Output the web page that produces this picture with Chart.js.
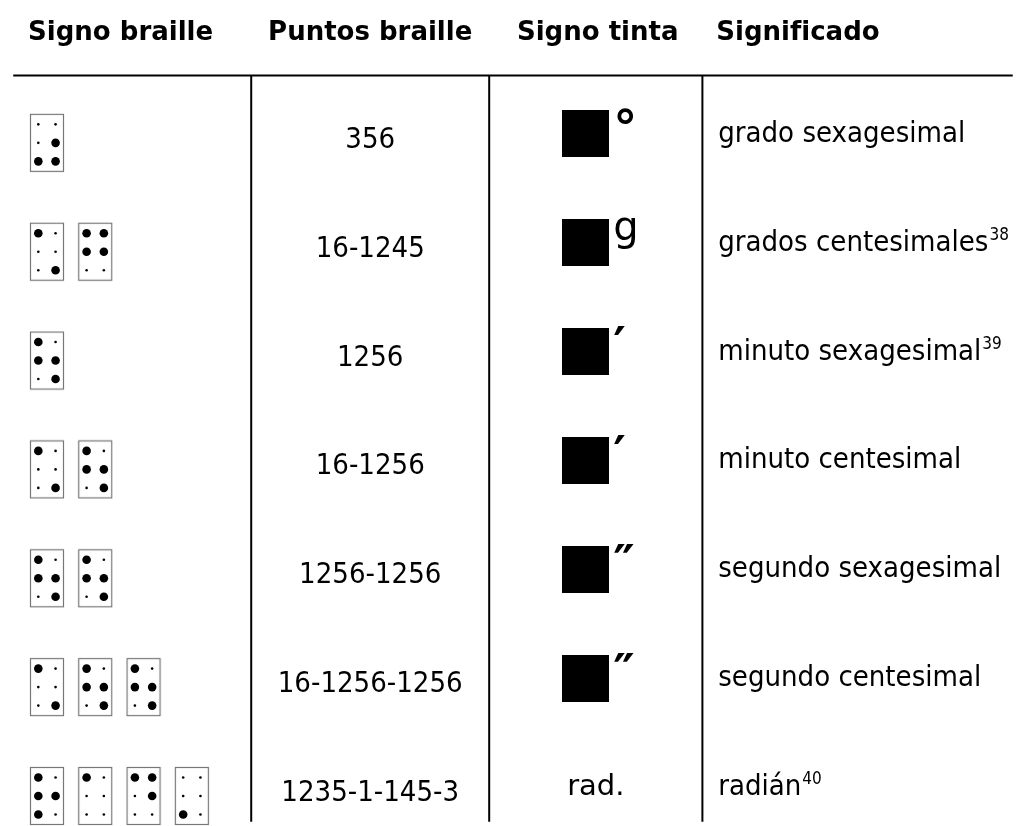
<!DOCTYPE html>
<html lang="es">
<head>
<meta charset="utf-8">
<title>Signos braille</title>
<script src="https://cdn.jsdelivr.net/npm/chart.js@4.4.1/dist/chart.umd.min.js"></script>
<style>
  html, body { margin: 0; padding: 0; background: #fff; }
  canvas { display: block; }
</style>
</head>
<body>
<canvas id="tabla" width="1026" height="826"></canvas>
<script>
// table content
const headers = ['Signo braille', 'Puntos braille', 'Signo tinta', 'Significado'];
const puntos = ['356', '16-1245', '1256', '16-1256', '1256-1256', '16-1256-1256', '1235-1-145-3'];
const tinta = ['°', 'g', '′', '′', '″', '″', 'rad.'];
const conCuadro = [true, true, true, true, true, true, false];
const significado = ['grado sexagesimal', 'grados centesimales', 'minuto sexagesimal', 'minuto centesimal',
  'segundo sexagesimal', 'segundo centesimal', 'radián'];
const notas = ['', '38', '39', '', '', '', '40'];

// layout (x in table units, y in rows)
const ROW_PX = 110;
const px = v => v / ROW_PX;
const yMin = 1 - 135 / ROW_PX;
const yMax = yMin + 826 / ROW_PX;
const colEdges = [9, 249, 489, 704, 1017];
const headX = [24, 266, 517, 718];
const RULE_ROW = 1 - px(63);
const CELL_X0 = 43, CELL_PITCH = 48.7, DOT_DX = 8.7, DOT_DY = px(18.7), CELL_DY = px(5);
const INK_X = 586, INK_DY = px(-4);

const BODY_FONT = '29px "DejaVu Sans"';
const SQUEEZE = 0.9;
const symFont = s => (s === 'g' ? '40px "DejaVu Sans"' : 'bold 48px "DejaVu Sans"');

// braille dots and cell frames
const raised = [], flat = [], frames = [];
puntos.forEach((p, i) => {
  const row = i + 1;
  p.split('-').forEach((cell, c) => {
    const cx = CELL_X0 + c * CELL_PITCH;
    const cy = row + CELL_DY;
    frames.push({ x: cx, y: cy });
    for (let d = 1; d <= 6; d++) {
      const pt = { x: cx + (d <= 3 ? -DOT_DX : DOT_DX), y: cy + ((d - 1) % 3 - 1) * DOT_DY };
      (cell.includes(String(d)) ? raised : flat).push(pt);
    }
  });
});

const inkSquares = [];
conCuadro.forEach((on, i) => { if (on) inkSquares.push({ x: INK_X, y: i + 1 + INK_DY }); });

// point images
const frameImg = document.createElement('canvas');
frameImg.width = 36; frameImg.height = 60;
(function () {
  const c = frameImg.getContext('2d');
  c.strokeStyle = '#777';
  c.lineWidth = 1.2;
  c.strokeRect(1.5, 1.5, 33, 57);
})();
const squareImg = document.createElement('canvas');
squareImg.width = 47; squareImg.height = 47;
(function () {
  const c = squareImg.getContext('2d');
  c.fillStyle = '#000';
  c.fillRect(0, 0, 47, 47);
})();

function lineSet(points) {
  return { data: points, showLine: true, borderColor: '#000', borderWidth: 2,
    pointRadius: 0, pointHoverRadius: 0, clip: false };
}

function txt(ctx, s, x, y, font, align, sx) {
  ctx.save();
  ctx.font = font;
  ctx.textAlign = align;
  ctx.translate(x, y);
  ctx.scale(sx, 1);
  ctx.fillText(s, 0, 0);
  const w = ctx.measureText(s).width * sx;
  ctx.restore();
  return w;
}

const tableText = {
  id: 'tableText',
  afterDraw(chart) {
    const { ctx, scales: { x, y } } = chart;
    ctx.save();
    ctx.fillStyle = '#000';
    ctx.textBaseline = 'alphabetic';

    headers.forEach((h, k) => {
      txt(ctx, h, x.getPixelForValue(headX[k]), y.getPixelForValue(0) + 11, 'bold 26px "DejaVu Sans"', 'left', 1);
    });

    const midX = x.getPixelForValue((colEdges[1] + colEdges[2]) / 2);
    const inkMid = x.getPixelForValue((colEdges[2] + colEdges[3]) / 2);
    puntos.forEach((p, i) => {
      const r = y.getPixelForValue(i + 1);
      txt(ctx, p, midX, r + 10, BODY_FONT, 'center', SQUEEZE);

      if (conCuadro[i]) {
        ctx.font = symFont(tinta[i]);
        const m = ctx.measureText(tinta[i]);
        const top = y.getPixelForValue(i + 1 + INK_DY) - 23.5 - 2;
        txt(ctx, tinta[i], x.getPixelForValue(INK_X + 28), top + m.actualBoundingBoxAscent, symFont(tinta[i]), 'left', 1);
      } else {
        txt(ctx, tinta[i], inkMid, r + 4, BODY_FONT, 'center', 1);
      }

      const left = x.getPixelForValue(colEdges[3] + 16);
      const w = txt(ctx, significado[i], left, r + 4, BODY_FONT, 'left', SQUEEZE);
      if (notas[i]) txt(ctx, notas[i], left + w + 1, r + 4 - 11, '17px "DejaVu Sans"', 'left', SQUEEZE);
    });
    ctx.restore();
  }
};

new Chart(document.getElementById('tabla'), {
  type: 'scatter',
  data: {
    datasets: [
      lineSet([{ x: colEdges[0], y: RULE_ROW }, { x: colEdges[4], y: RULE_ROW }]),
      lineSet([{ x: colEdges[1], y: RULE_ROW }, { x: colEdges[1], y: yMax }]),
      lineSet([{ x: colEdges[2], y: RULE_ROW }, { x: colEdges[2], y: yMax }]),
      lineSet([{ x: colEdges[3], y: RULE_ROW }, { x: colEdges[3], y: yMax }]),
      { data: frames, pointStyle: frameImg, pointRadius: 1, pointHoverRadius: 1, clip: false },
      { data: raised, pointRadius: 4.3, pointHoverRadius: 4.3, backgroundColor: '#000', borderWidth: 0, clip: false },
      { data: flat, pointRadius: 1.3, pointHoverRadius: 1.3, backgroundColor: '#000', borderWidth: 0, clip: false },
      { data: inkSquares, pointStyle: squareImg, pointRadius: 1, pointHoverRadius: 1, clip: false }
    ]
  },
  options: {
    responsive: false,
    animation: false,
    events: [],
    layout: { padding: 0 },
    plugins: { legend: { display: false }, tooltip: { enabled: false } },
    scales: {
      x: { type: 'linear', min: 0, max: 1026, display: false },
      y: { type: 'linear', min: yMin, max: yMax, reverse: true, display: false }
    }
  },
  plugins: [tableText]
});
</script>
</body>
</html>
